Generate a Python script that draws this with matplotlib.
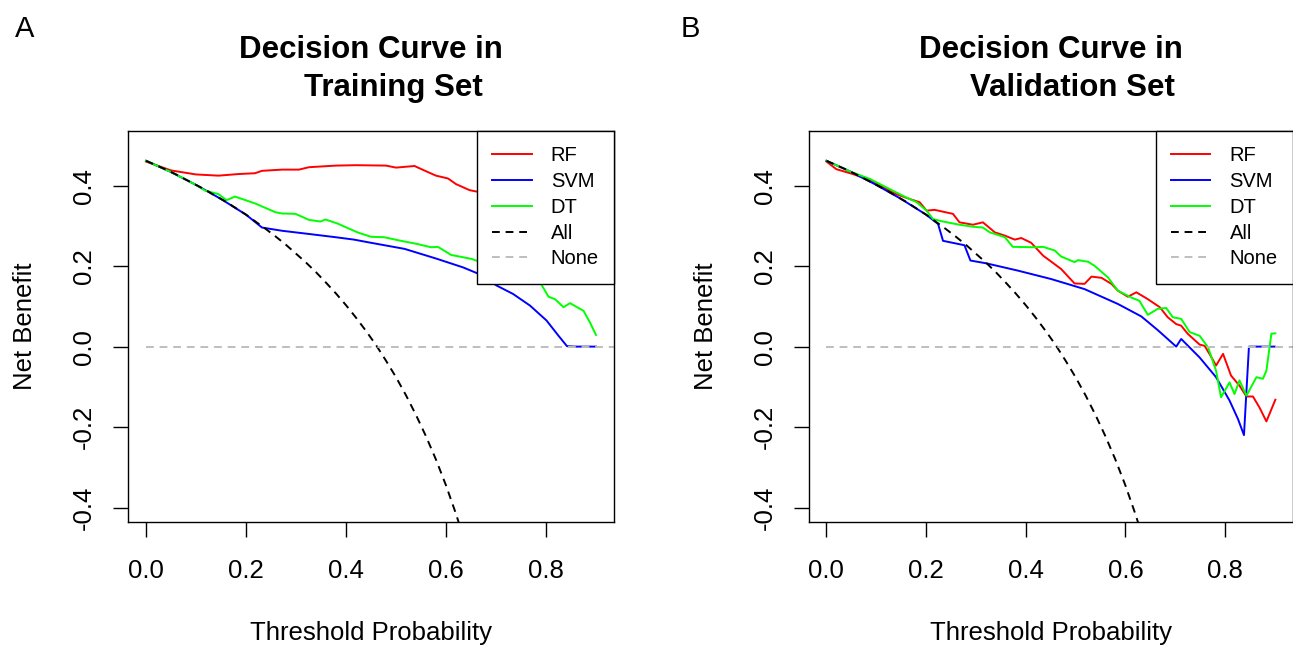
import matplotlib
matplotlib.use("Agg")
import matplotlib.pyplot as plt

plt.rcParams['font.family'] = ['Liberation Sans', 'DejaVu Sans']

# ---------------- data ----------------
# Treat-all reference curve
all_x = [0.00, 0.02, 0.04, 0.06, 0.08, 0.10, 0.12, 0.14, 0.16, 0.18, 0.20, 0.22,
         0.24, 0.26, 0.28, 0.30, 0.32, 0.34, 0.36, 0.38, 0.40, 0.42, 0.44, 0.46,
         0.48, 0.50, 0.52, 0.54, 0.56, 0.58, 0.60, 0.62, 0.64]
all_y = [0.462, 0.451, 0.440, 0.428, 0.415, 0.402, 0.389, 0.374, 0.360, 0.344, 0.328, 0.310,
         0.292, 0.273, 0.253, 0.231, 0.209, 0.185, 0.159, 0.132, 0.103, 0.072, 0.039, 0.004,
         -0.035, -0.076, -0.121, -0.170, -0.223, -0.281, -0.345, -0.416, -0.494]
none_x = [0.0, 0.99]
none_y = [0.0, 0.0]

# Training set
rf_tr_x = [0, 0.05, 0.10, 0.145, 0.185, 0.218, 0.232, 0.272, 0.306, 0.326, 0.38, 0.42, 0.48,
           0.50, 0.537, 0.56, 0.58, 0.604, 0.62, 0.647, 0.667, 0.70, 0.75, 0.80, 0.85, 0.90]
rf_tr_y = [0.460, 0.438, 0.428, 0.425, 0.429, 0.431, 0.437, 0.440, 0.440, 0.446, 0.450, 0.451, 0.450,
           0.445, 0.449, 0.436, 0.425, 0.418, 0.404, 0.389, 0.384, 0.37, 0.35, 0.33, 0.30, 0.27]
svm_tr_x = [0, 0.05, 0.10, 0.15, 0.20, 0.232, 0.272, 0.326, 0.379, 0.416, 0.446, 0.517, 0.58,
            0.634, 0.667, 0.701, 0.734, 0.768, 0.801, 0.825, 0.842, 0.86, 0.90]
svm_tr_y = [0.462, 0.434, 0.402, 0.367, 0.328, 0.296, 0.288, 0.280, 0.272, 0.266, 0.259, 0.243, 0.219,
            0.197, 0.180, 0.152, 0.131, 0.102, 0.065, 0.027, 0.001, 0.0, 0.0]
dt_tr_x = [0, 0.05, 0.10, 0.118, 0.145, 0.161, 0.178, 0.218, 0.259, 0.272, 0.299, 0.326, 0.349,
           0.359, 0.383, 0.423, 0.450, 0.476, 0.510, 0.543, 0.570, 0.584, 0.610, 0.651, 0.667,
           0.70, 0.75, 0.79, 0.805, 0.818, 0.835, 0.848, 0.875, 0.888, 0.90]
dt_tr_y = [0.462, 0.434, 0.402, 0.388, 0.379, 0.364, 0.373, 0.356, 0.334, 0.331, 0.330, 0.315, 0.311,
           0.316, 0.306, 0.284, 0.273, 0.272, 0.263, 0.255, 0.247, 0.248, 0.228, 0.218, 0.211,
           0.205, 0.19, 0.156, 0.124, 0.118, 0.098, 0.108, 0.089, 0.060, 0.029]

# Validation set
rf_va_x = [0, 0.02, 0.053, 0.087, 0.12, 0.14, 0.167, 0.187, 0.201, 0.217, 0.254, 0.267, 0.294,
           0.314, 0.338, 0.358, 0.378, 0.391, 0.411, 0.435, 0.471, 0.498, 0.518, 0.532, 0.552,
           0.572, 0.585, 0.605, 0.622, 0.645, 0.669, 0.685, 0.702, 0.712, 0.725, 0.749, 0.759,
           0.772, 0.782, 0.796, 0.812, 0.829, 0.843, 0.856, 0.869, 0.883, 0.901]
rf_va_y = [0.460, 0.441, 0.429, 0.414, 0.392, 0.379, 0.367, 0.359, 0.338, 0.340, 0.330, 0.309, 0.303,
           0.309, 0.284, 0.276, 0.266, 0.270, 0.258, 0.226, 0.193, 0.157, 0.156, 0.174, 0.171,
           0.156, 0.139, 0.124, 0.135, 0.118, 0.098, 0.073, 0.056, 0.052, 0.032, 0.005, 0.002,
           -0.025, -0.047, -0.018, -0.072, -0.097, -0.124, -0.124, -0.151, -0.186, -0.132]
svm_va_x = [0, 0.05, 0.10, 0.15, 0.20, 0.224, 0.234, 0.277, 0.289, 0.321, 0.384, 0.451, 0.518,
            0.585, 0.632, 0.665, 0.702, 0.712, 0.749, 0.782, 0.809, 0.826, 0.838, 0.848, 0.90]
svm_va_y = [0.462, 0.434, 0.402, 0.367, 0.328, 0.305, 0.263, 0.252, 0.214, 0.207, 0.189, 0.168, 0.143,
            0.106, 0.075, 0.041, 0.0, 0.019, -0.027, -0.076, -0.134, -0.180, -0.220, 0.0, 0.0]
dt_va_x = [0, 0.05, 0.087, 0.12, 0.147, 0.16, 0.181, 0.201, 0.214, 0.234, 0.267, 0.294, 0.314,
           0.328, 0.358, 0.374, 0.418, 0.435, 0.458, 0.471, 0.498, 0.505, 0.525, 0.538, 0.565,
           0.585, 0.612, 0.628, 0.645, 0.665, 0.682, 0.695, 0.712, 0.729, 0.749, 0.766, 0.782,
           0.792, 0.809, 0.819, 0.829, 0.843, 0.863, 0.876, 0.883, 0.893, 0.901]
dt_va_y = [0.462, 0.434, 0.417, 0.396, 0.379, 0.371, 0.359, 0.338, 0.317, 0.311, 0.303, 0.298, 0.296,
           0.284, 0.272, 0.248, 0.247, 0.248, 0.239, 0.224, 0.210, 0.215, 0.211, 0.201, 0.172,
           0.139, 0.122, 0.114, 0.079, 0.094, 0.096, 0.073, 0.069, 0.036, 0.027, -0.002, -0.060,
           -0.126, -0.089, -0.118, -0.084, -0.122, -0.076, -0.080, -0.060, 0.032, 0.033]

x_ticks = [0.0, 0.2, 0.4, 0.6, 0.8]
y_ticks = [-0.4, -0.2, 0.0, 0.2, 0.4]
legend_labels = ["RF", "SVM", "DT", "All", "None"]
panel_letters = ["A", "B"]
title_line1 = ["Decision Curve in", "Decision Curve in"]
title_line2 = ["Training Set", "Validation Set"]

# ---------------- figure ----------------
W, H = 1293, 645
fig = plt.figure(figsize=(W / 100, H / 100), dpi=100)
axA = fig.add_axes([128 / W, 1 - 522 / H, 486 / W, 391 / H])
axB = fig.add_axes([808.5 / W, 1 - 522 / H, 484.3 / W, 391 / H])

LW = 1.4
DASH = (4, 3)

panels = [
    (axA, (rf_tr_x, rf_tr_y), (svm_tr_x, svm_tr_y), (dt_tr_x, dt_tr_y)),
    (axB, (rf_va_x, rf_va_y), (svm_va_x, svm_va_y), (dt_va_x, dt_va_y)),
]

for i, (ax, rf, svm, dt) in enumerate(panels):
    h_rf, = ax.plot(rf[0], rf[1], color='#FF0000', lw=LW)
    h_svm, = ax.plot(svm[0], svm[1], color='#0000FF', lw=LW)
    h_dt, = ax.plot(dt[0], dt[1], color='#00FF00', lw=LW)
    h_all, = ax.plot(all_x, all_y, color='black', lw=LW, ls=(0, DASH))
    h_none, = ax.plot(none_x, none_y, color='#BEBEBE', lw=LW, ls=(0, DASH))

    ax.set_xlim(-0.036, 0.936)
    ax.set_ylim(-0.436, 0.536)
    ax.set_xticks(x_ticks)
    ax.set_yticks(y_ticks)
    ax.set_xticklabels([f"{v:.1f}" for v in x_ticks])
    ax.set_yticklabels([f"{v:.1f}" for v in y_ticks], rotation=90, va='center')
    ax.tick_params(axis='both', direction='out', length=11, width=1.0, labelsize=18.5,
                   color='black')
    ax.tick_params(axis='x', pad=16)
    ax.tick_params(axis='y', pad=12)
    for sp in ax.spines.values():
        sp.set_linewidth(1.0)
        sp.set_color('black')
    ax.set_xlabel("Threshold Probability", fontsize=18.5, labelpad=27)
    ax.set_ylabel("Net Benefit", fontsize=18.5, labelpad=25)

    leg = ax.legend([h_rf, h_svm, h_dt, h_all, h_none], legend_labels,
                    loc='upper right', bbox_to_anchor=(1.0, 1.0), borderaxespad=0.0,
                    fontsize=14.5, frameon=True, fancybox=False, framealpha=1.0,
                    edgecolor='black', handlelength=1.95, handletextpad=0.95,
                    borderpad=0.75, labelspacing=0.34)
    leg.get_frame().set_linewidth(1.0)
    leg.set_zorder(10)

    ax.text(0.5, 1 + (131 - 50) / 391, title_line1[i], transform=ax.transAxes,
            ha='center', va='center', fontsize=22.5, fontweight='bold')
    ax.text(0.5 + 22 / 486, 1 + (131 - 88) / 391, title_line2[i], transform=ax.transAxes,
            ha='center', va='center', fontsize=22.5, fontweight='bold')

fig.text(25 / W, 1 - 29 / H, panel_letters[0], fontsize=21, ha='center', va='center')
fig.text(690 / W, 1 - 29 / H, panel_letters[1], fontsize=21, ha='center', va='center')

fig.savefig("out.png", dpi=100)
